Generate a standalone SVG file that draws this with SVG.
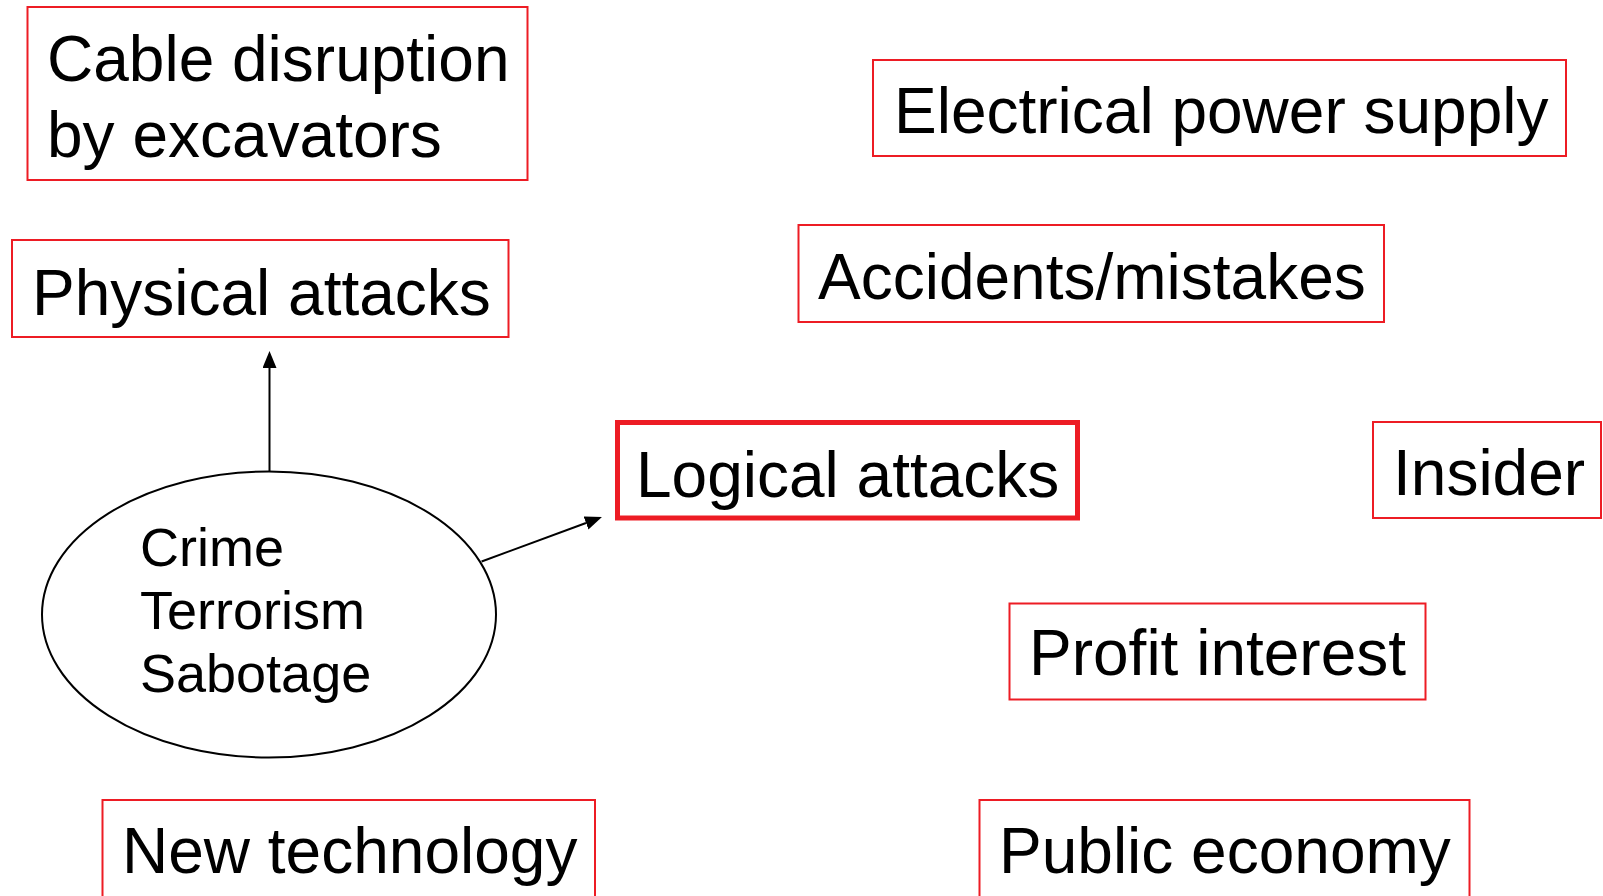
<svg xmlns="http://www.w3.org/2000/svg" width="1603" height="896" viewBox="0 0 1603 896">
  <style>
    .box { fill: #ffffff; stroke: #ED1C24; stroke-width: 2; }
    .boxthick { fill: #ffffff; stroke: #ED1C24; stroke-width: 5; }
    .lbl { font-family: "Liberation Sans", Arial, sans-serif; font-size: 64px; fill: #000000; }
    .elbl { font-family: "Liberation Sans", Arial, sans-serif; font-size: 54px; fill: #000000; }
    .conn { stroke: #000000; stroke-width: 2; fill: none; }
  </style>
  <defs>
    <marker id="arrow" viewBox="0 0 17 14" refX="0" refY="7" markerWidth="17" markerHeight="14" markerUnits="userSpaceOnUse" orient="auto">
      <path d="M0,0 L17,7 L0,14 z" fill="#000000"/>
    </marker>
  </defs>
  <rect width="1603" height="896" fill="#ffffff"/>

  <g id="cable">
    <rect class="box" x="27.5" y="7" width="500" height="173"/>
    <text class="lbl" x="47" y="81">Cable disruption</text>
    <text class="lbl" x="47" y="157">by excavators</text>
  </g>

  <g id="physical">
    <rect class="box" x="12" y="240" width="496.5" height="97"/>
    <text class="lbl" x="32" y="315">Physical attacks</text>
  </g>

  <g id="electrical">
    <rect class="box" x="873" y="60" width="693" height="96"/>
    <text class="lbl" x="894" y="133">Electrical power supply</text>
  </g>

  <g id="accidents">
    <rect class="box" x="798.5" y="225" width="585.5" height="97"/>
    <text class="lbl" x="818" y="299">Accidents/mistakes</text>
  </g>

  <g id="logical">
    <rect class="boxthick" x="617.5" y="422.5" width="460" height="95.5"/>
    <text class="lbl" x="636" y="497">Logical attacks</text>
  </g>

  <g id="insider">
    <rect class="box" x="1373" y="422" width="228" height="96"/>
    <text class="lbl" x="1393" y="495">Insider</text>
  </g>

  <g id="profit">
    <rect class="box" x="1009.5" y="603.5" width="416" height="96"/>
    <text class="lbl" x="1029" y="675">Profit interest</text>
  </g>

  <g id="newtech">
    <rect class="box" x="102.5" y="800" width="492.5" height="100"/>
    <text class="lbl" x="122" y="873">New technology</text>
  </g>

  <g id="publiceco">
    <rect class="box" x="979.5" y="800" width="490" height="100"/>
    <text class="lbl" x="999" y="873">Public economy</text>
  </g>

  <g id="threats">
    <ellipse cx="269" cy="614.5" rx="227" ry="143" fill="#ffffff" stroke="#000000" stroke-width="2"/>
    <text class="elbl" x="140" y="566">Crime</text>
    <text class="elbl" x="140" y="629">Terrorism</text>
    <text class="elbl" x="140" y="692">Sabotage</text>
  </g>

  <g id="connectors">
    <line class="conn" x1="269.5" y1="471.5" x2="269.5" y2="368" marker-end="url(#arrow)"/>
    <line class="conn" x1="481.6" y1="561.5" x2="586" y2="523" marker-end="url(#arrow)"/>
  </g>
</svg>
